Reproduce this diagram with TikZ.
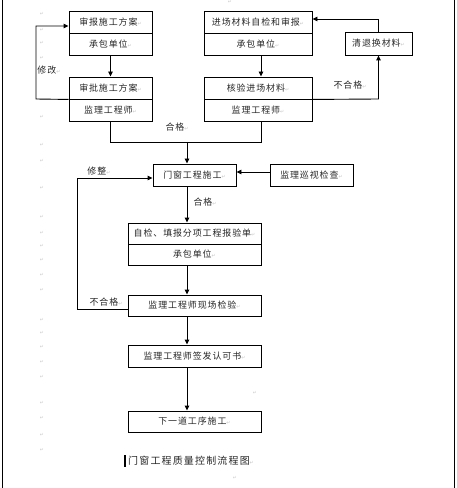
\documentclass[tikz,border=0pt]{standalone}
\usepackage{fontspec}
\setmainfont{Noto Sans CJK SC}
\newfontfamily\cjk[LetterSpace=10]{Noto Sans CJK SC}
\newfontfamily\cjkcap[LetterSpace=12]{Noto Sans CJK SC}
\newfontfamily\markfont{DejaVu Sans}
\usetikzlibrary{arrows.meta}
\newcommand{\pmk}{{\color{gray!45}\markfont\fontsize{5}{5}\selectfont ↵}}
\begin{document}
\begin{tikzpicture}[x=1bp,y=-1bp,
  box/.style={draw, line width=0.9bp, minimum height=22bp, inner sep=0pt, font=\cjk\fontsize{9}{10}\selectfont, text=black!85, anchor=center},
  arr/.style={-{Triangle[length=5bp,width=4.5bp]}, line width=0.9bp},
  ln/.style={line width=0.9bp},
  lab/.style={font=\cjk\fontsize{9}{10}\selectfont, text=black!85, inner sep=0pt},
  pmark/.style={text=gray!40, font=\markfont\fontsize{5}{5}\selectfont, inner sep=0pt},
  border/.style={line width=1.6bp}]
\useasboundingbox (0,0) rectangle (457,488);
% page borders
\coordinate (bl1) at (2.5,0); \coordinate (bl2) at (2.5,488);
\coordinate (br1) at (454.5,0); \coordinate (br2) at (454.5,488);
\draw[border] (bl1) -- (bl2);
\draw[border] (br1) -- (br2);
% boxes
\node[box, minimum width=83bp] (b1a) at (110.5,22) {审报施工方案\pmk};
\node[box, minimum width=83bp] (b1b) at (110.5,44) {承包单位\pmk};
\node[box, minimum width=83bp] (b2a) at (110.5,88) {审批施工方案\pmk};
\node[box, minimum width=83bp] (b2b) at (110.5,110) {监理工程师\pmk};
\node[box, minimum width=108bp] (b3a) at (258,22) {进场材料自检和审报\pmk};
\node[box, minimum width=108bp] (b3b) at (258,44) {承包单位\pmk};
\node[box, minimum width=108bp] (b4a) at (258,88) {核验进场材料\pmk};
\node[box, minimum width=108bp] (b4b) at (258,110) {监理工程师\pmk};
\node[box, minimum width=67bp, minimum height=23bp] (b5) at (378.5,43.5) {清退换材料\pmk};
\node[box, minimum width=83bp] (b6) at (194.5,175) {门窗工程施工\pmk};
\node[box, minimum width=83bp] (b7) at (311.5,175) {监理巡视检查\pmk};
\node[box, minimum width=133bp, minimum height=21bp] (b8a) at (194.5,233.5) {自检、填报分项工程报验单\pmk};
\node[box, minimum width=133bp, minimum height=21bp] (b8b) at (194.5,254.5) {承包单位\pmk};
\node[box, minimum width=133bp, minimum height=21bp] (b9) at (194.5,305.5) {监理工程师现场检验\pmk};
\node[box, minimum width=133bp] (b10) at (194.5,356) {监理工程师签发认可书\pmk};
\node[box, minimum width=133bp, minimum height=21bp] (b11) at (194.5,421.5) {下一道工序施工\pmk};
% helper coordinates
\coordinate (ax) at (187,0);
\coordinate (rx) at (261,0);
\coordinate (m) at (187,142);
\coordinate (ay) at (0,172);
\coordinate (c1) at (77,309);
\coordinate (c2) at (77,178);
\coordinate (d1) at (36,99);
\coordinate (d2) at (36,26);
\coordinate (e1) at (378.5,99);
\coordinate (e2) at (378.5,19);
% connectors
\draw[arr] (b1b.south) -- (b2a.north);
\draw[arr] (b3b.south -| rx) -- (b4a.north -| rx);
\draw[arr] (b2a.south west) -- (d1) -- (d2) -- (b1a.west |- d2);
\draw[arr] (b4a.south east) -- (e1) -- (b5.south);
\draw[arr] (b5.north) -- (e2) -- (b3a.east |- e2);
\draw[ln] (b2b.south) -- (b2b.south |- m) -- (rx |- m) -- (b4b.south -| rx);
\draw[arr] (m) -- (b6.north -| ax);
\draw[arr] (b7.west |- ay) -- (b6.east |- ay);
\draw[arr] (b6.south -| ax) -- (b8a.north -| ax);
\draw[arr] (b8b.south -| ax) -- (b9.north -| ax);
\draw[arr] (b9.west |- c1) -- (c1) -- (c2) -- (b6.west |- c2);
\draw[arr] (b9.south -| ax) -- (b10.north -| ax);
\draw[arr] (b10.south -| ax) -- (b11.north -| ax);
% labels
\node[lab] (l1) at (49,70) {修改\pmk};
\node[lab] (l2) at (350,85) {不合格\pmk};
\node[lab] (l3) at (177,127) {合格\pmk};
\node[lab] (l4) at (205,202) {合格\pmk};
\node[lab] (l5) at (99,171) {修整\pmk};
\node[lab] (l6) at (106,302) {不合格\pmk};
% caption
\node[inner sep=0pt, font=\cjkcap\fontsize{10}{11}\selectfont, text=black!85, anchor=west] (cap) at (128,461) {门窗工程质量控制流程图\pmk};
\fill (124,455) rectangle (126.3,467);
% paragraph marks
\foreach \yy [count=\i] in {14,30,43,58,117,145,161,188,217,233,246,260,275,290,320,333,347,362,377,403,418,435,450} {
  \node[pmark] (pm\i) at (42,\yy) {↵};
}
\node[pmark] (pmA) at (230,2) {↵};
\node[pmark] (pmB) at (255,393) {↵};
\node[pmark] (pmC) at (235,478) {↵};
\end{tikzpicture}
\end{document}
